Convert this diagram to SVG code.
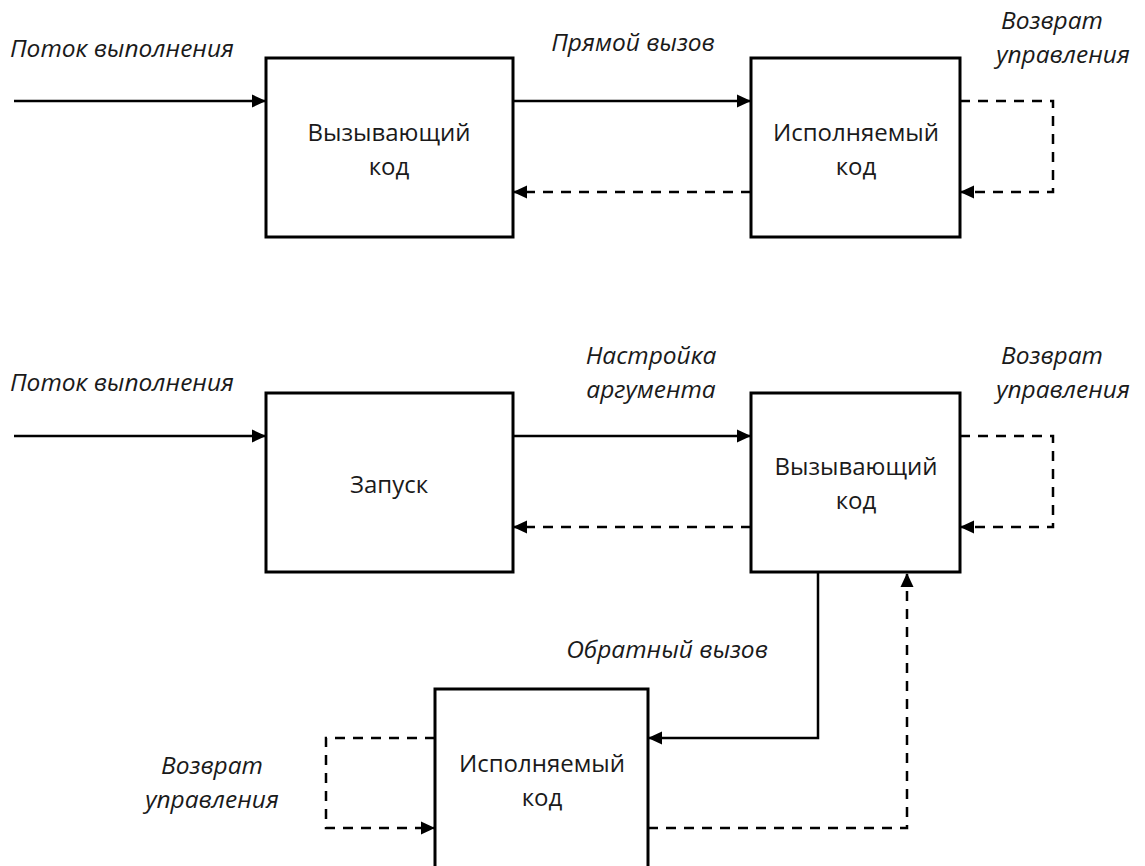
<svg xmlns="http://www.w3.org/2000/svg" width="1145" height="866" viewBox="0 0 1145 866">
<style>
.box{fill:#fff;stroke:#000;stroke-width:3}
.ln{fill:none;stroke:#000;stroke-width:2.5}
.ds{fill:none;stroke:#000;stroke-width:2.5;stroke-dasharray:10 8}
.t{font-family:"Open Sans","Noto Sans",sans-serif;font-size:24px;fill:#1a1a1a;text-anchor:middle}
.i{font-family:"Open Sans","Noto Sans",sans-serif;font-size:24.5px;font-style:italic;fill:#1a1a1a}
.c{text-anchor:middle}
</style>
<defs>
<marker id="ah" markerWidth="14" markerHeight="14" refX="13" refY="7" orient="auto" markerUnits="userSpaceOnUse">
<path d="M0,0.5 L14,7 L0,13.5 Z" fill="#000"/>
</marker>
</defs>
<rect width="1145" height="866" fill="#fff"/>
<g id="connectors">
<line class="ln" x1="14" y1="101" x2="265" y2="101" marker-end="url(#ah)"/>
<line class="ln" x1="513" y1="101" x2="750" y2="101" marker-end="url(#ah)"/>
<line class="ds" x1="751" y1="192" x2="514" y2="192" marker-end="url(#ah)"/>
<polyline class="ds" points="960,101 1053,101 1053,192 961,192" marker-end="url(#ah)"/>
<line class="ln" x1="14" y1="436" x2="265" y2="436" marker-end="url(#ah)"/>
<line class="ln" x1="513" y1="436" x2="750" y2="436" marker-end="url(#ah)"/>
<line class="ds" x1="751" y1="527" x2="514" y2="527" marker-end="url(#ah)"/>
<polyline class="ds" points="960,436 1053,436 1053,527 961,527" marker-end="url(#ah)"/>
<polyline class="ln" points="818,572 818,738 649,738" marker-end="url(#ah)"/>
<polyline class="ds" points="648,828 907,828 907,574" marker-end="url(#ah)"/>
<polyline class="ds" points="435,738 326,738 326,828 434,828" marker-end="url(#ah)"/>
</g>
<g id="caller1">
<rect class="box" x="266" y="58" width="247" height="179"/>
<text class="t" x="389" y="141">Вызывающий</text>
<text class="t" x="389" y="175">код</text>
</g>
<g id="callee1">
<rect class="box" x="751" y="58" width="209" height="179"/>
<text class="t" x="856" y="141">Исполняемый</text>
<text class="t" x="856" y="175">код</text>
</g>
<g id="launch">
<rect class="box" x="266" y="393" width="247" height="179"/>
<text class="t" x="389" y="493">Запуск</text>
</g>
<g id="caller2">
<rect class="box" x="751" y="393" width="209" height="179"/>
<text class="t" x="856" y="475">Вызывающий</text>
<text class="t" x="856" y="509">код</text>
</g>
<g id="callee2">
<rect class="box" x="435" y="689" width="213" height="190"/>
<text class="t" x="542" y="772">Исполняемый</text>
<text class="t" x="542" y="806">код</text>
</g>
<g id="labels">
<text class="i" x="10" y="57">Поток выполнения</text>
<text class="i c" x="633" y="51">Прямой вызов</text>
<text class="i c" x="1052" y="29">Возврат</text>
<text class="i c" x="1063" y="63">управления</text>
<text class="i" x="10" y="391">Поток выполнения</text>
<text class="i c" x="651" y="364">Настройка</text>
<text class="i c" x="651" y="398">аргумента</text>
<text class="i c" x="1052" y="364">Возврат</text>
<text class="i c" x="1063" y="398">управления</text>
<text class="i c" x="667" y="658">Обратный вызов</text>
<text class="i c" x="212" y="774">Возврат</text>
<text class="i c" x="212" y="808">управления</text>
</g>
</svg>
